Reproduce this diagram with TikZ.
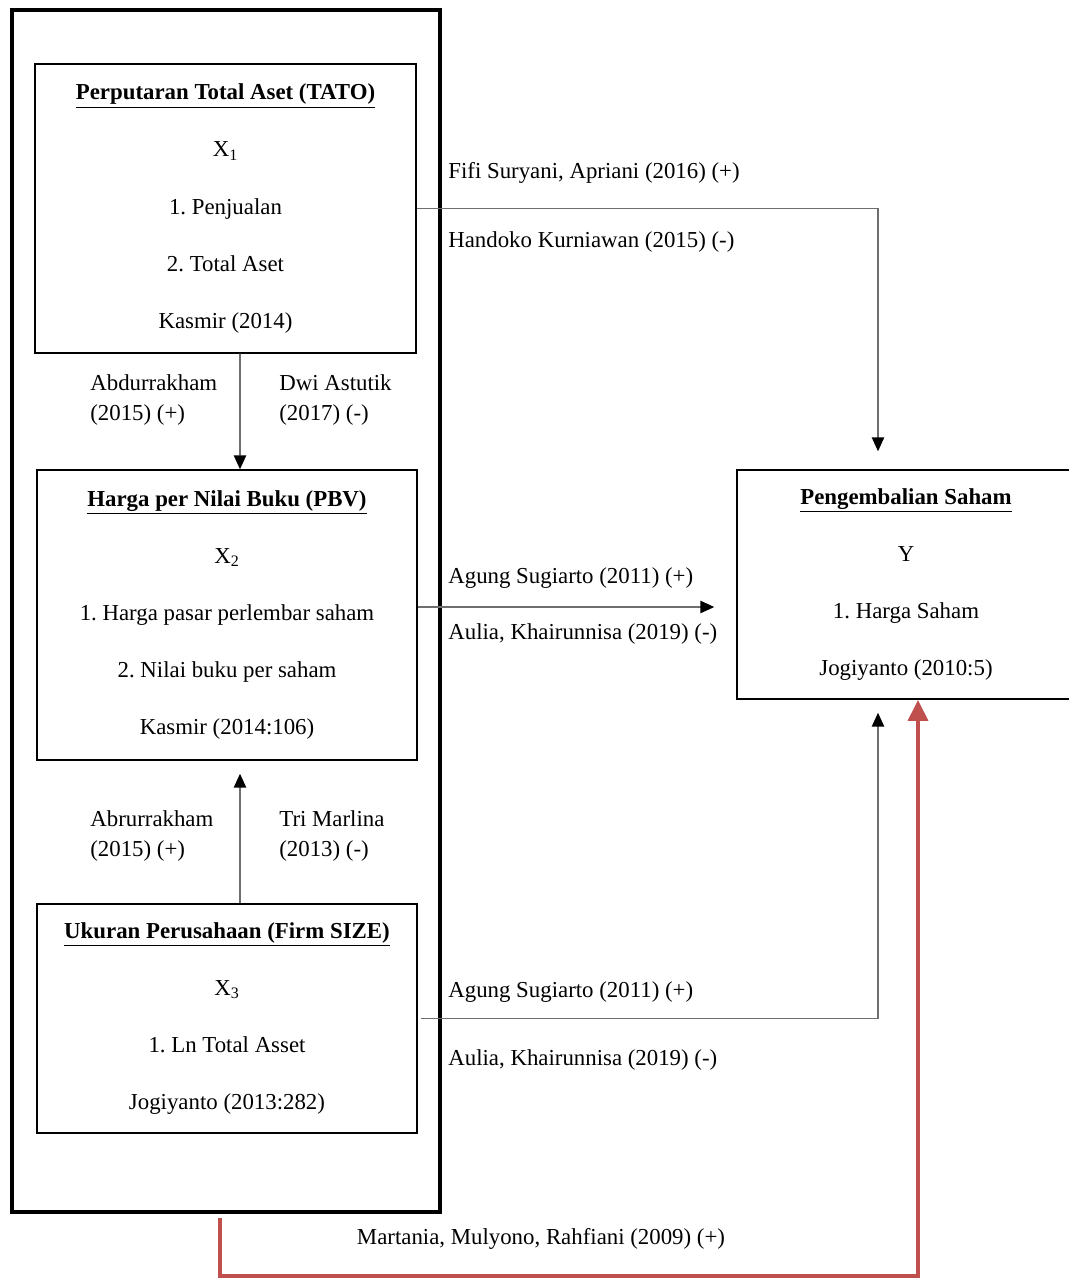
\documentclass[tikz,border=0pt]{standalone}
\usepackage{fontspec}
\setmainfont{Liberation Serif}
\usetikzlibrary{arrows.meta, positioning}
\definecolor{redline}{RGB}{192,80,77}
\definecolor{linegray}{RGB}{110,110,110}
\frenchspacing

\begin{document}
\begin{tikzpicture} [x=0.02cm, y=-0.02cm, font=\fontsize{13}{32.5}\selectfont,
    box/.style={draw, line width=0.8pt, align=center, inner sep=0pt},
    lbl/.style={anchor=west, align=left, inner sep=0pt, font=\fontsize{13}{17}\selectfont},
    conn/.style={-{Triangle[length=8pt, width=7pt, color=black]}, draw=linegray, line width=1pt},
    redconn/.style={-{Triangle[length=12pt, width=11pt]}, draw=redline, line width=2.8pt}]
    \useasboundingbox (0,0) rectangle (1069,1279);

    % outer frame round the independent variables
    \node (frame) [draw, line width=2.3pt, minimum width=8.56cm, minimum height=24.04cm] at (226,611) {};

    \node (tato) [box, minimum width=7.62cm, minimum height=5.78cm] at (225.5,208.5)
        {\underline{\textbf{Perputaran Total Aset (TATO)}}\\ X\textsubscript{1}\\ 1. Penjualan\\ 2. Total Aset\\ Kasmir (2014)};
    \node (pbv) [box, minimum width=7.6cm, minimum height=5.8cm] at (227,615)
        {\underline{\textbf{Harga per Nilai Buku (PBV)}}\\ X\textsubscript{2}\\ 1. Harga pasar perlembar saham\\ 2. Nilai buku per saham\\ Kasmir (2014:106)};
    \node (size) [box, minimum width=7.6cm, minimum height=4.58cm] at (227,1018.5)
        {\underline{\textbf{Ukuran Perusahaan (Firm SIZE)}}\\ X\textsubscript{3}\\ 1. Ln Total Asset\\ Jogiyanto (2013:282)};
    \node (ret) [box, minimum width=6.76cm, minimum height=4.58cm] at (906,584.5)
        {\underline{\textbf{Pengembalian Saham}}\\ Y\\ 1. Harga Saham\\ Jogiyanto (2010:5)};

    % labels
    \node (l1a) [lbl] at (448,173) {Fifi Suryani, Apriani (2016) (+)};
    \node (l1b) [lbl] at (448,242) {Handoko Kurniawan (2015) (-)};
    \node (l2a) [lbl] at (90,400) {Abdurrakham\\(2015) (+)};
    \node (l2b) [lbl] at (279,400) {Dwi Astutik\\(2017) (-)};
    \node (l3a) [lbl] at (448,578) {Agung Sugiarto (2011) (+)};
    \node (l3b) [lbl] at (448,634) {Aulia, Khairunnisa (2019) (-)};
    \node (l4a) [lbl] at (90,836) {Abrurrakham\\(2015) (+)};
    \node (l4b) [lbl] at (279,836) {Tri Marlina\\(2013) (-)};
    \node (l5a) [lbl] at (448,992) {Agung Sugiarto (2011) (+)};
    \node (l5b) [lbl] at (448,1060) {Aulia, Khairunnisa (2019) (-)};
    \node (l6) [lbl, anchor=center] at (541,1239) {Martania, Mulyono, Rahfiani (2009) (+)};

    \coordinate (redstart) at (220,1218);

    \draw [conn] (tato.east) -| ([xshift=-0.56cm, yshift=0.36cm]ret.north);
    \draw [conn] ([xshift=0.29cm]tato.south) -- ([xshift=0.26cm]pbv.north);
    \draw [conn, shorten >=0.44cm] ([yshift=0.16cm]pbv.east) -- ([yshift=0.16cm]pbv.east -| ret.west);
    \draw [conn, shorten >=0.26cm] ([xshift=0.26cm]size.north) -- ([xshift=0.26cm]pbv.south);
    \draw [conn, shorten >=0.26cm] ([xshift=0.06cm]size.east) -| ([xshift=-0.56cm]ret.south);
    \draw [redconn] (redstart) -- ++(0,58) -| ([xshift=0.24cm]ret.south);
\end{tikzpicture}
\end{document}
